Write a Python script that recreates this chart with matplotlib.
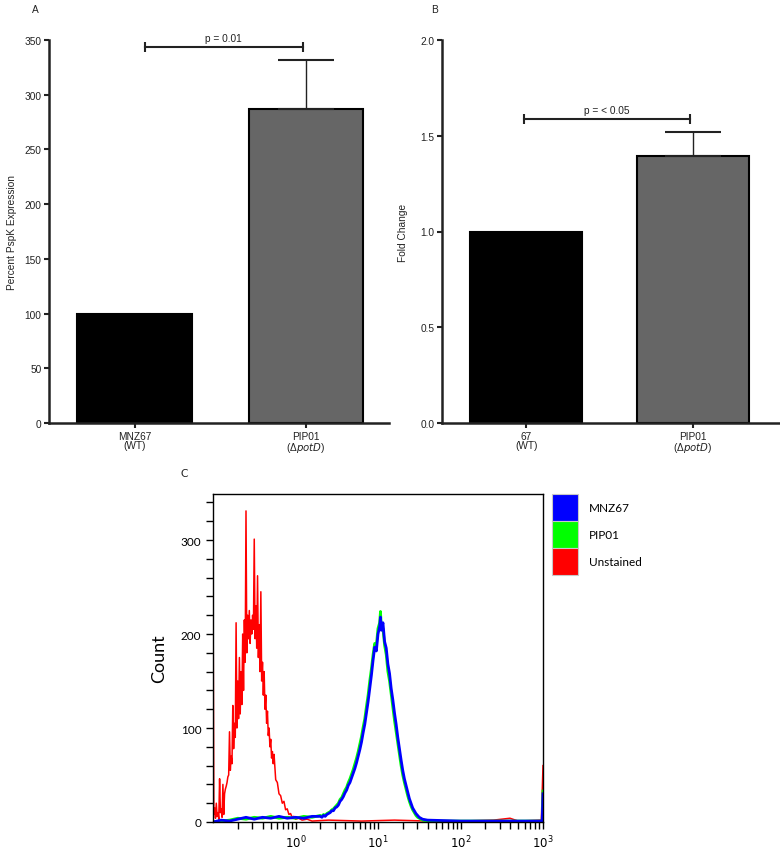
import numpy as np
import matplotlib
matplotlib.use("Agg")
from matplotlib import pyplot as plt
from matplotlib.patches import Patch

plt.rcParams['font.family'] = ['Liberation Sans', 'DejaVu Sans']

# panel A
a_labels = ["MNZ67\n(WT)", "PIP01\n(Δ$\\it{potD}$)"]
a_values = [100, 287]
a_errors = [0, 45]
# panel B
b_labels = ["67\n(WT)", "PIP01\n(Δ$\\it{potD}$)"]
b_values = [1.0, 1.394]
b_errors = [0, 0.126]

bar_colors = ["#000000", "#666666"]

# panel C - flow cytometry histograms (log10 of intensity, count)
red_logx = [-1.00, -0.99, -0.98, -0.97, -0.96, -0.95, -0.94, -0.93, -0.92, -0.91,
            -0.90, -0.89, -0.88, -0.87, -0.86, -0.85, -0.84, -0.83, -0.82, -0.81,
            -0.80, -0.79, -0.78, -0.77, -0.76, -0.75, -0.74, -0.73, -0.72, -0.71,
            -0.70, -0.69, -0.68, -0.67, -0.66, -0.65, -0.64, -0.63, -0.62, -0.61,
            -0.60, -0.59, -0.58, -0.57, -0.56, -0.55, -0.54, -0.53, -0.52, -0.51,
            -0.50, -0.49, -0.48, -0.47, -0.46, -0.45, -0.44, -0.43, -0.42, -0.41,
            -0.40, -0.39, -0.38, -0.37, -0.36, -0.35, -0.34, -0.33, -0.32, -0.31,
            -0.30, -0.29, -0.28, -0.27, -0.26, -0.24, -0.22, -0.20, -0.18, -0.16,
            -0.14, -0.12, -0.10, -0.08, -0.06, -0.04, -0.02, 0.00, 0.04, 0.08,
            0.14, 0.20, 0.40, 0.80, 1.20, 1.60, 2.00, 2.40, 2.60, 2.70,
            2.98, 3.00]
red_count = [262, 8, 15, 4, 20, 6, 10, 3, 46, 10,
             14, 5, 40, 8, 30, 35, 38, 42, 48, 50,
             96, 55, 70, 62, 124, 78, 105, 90, 212, 100,
             150, 110, 175, 115, 160, 125, 200, 140, 215, 170,
             331, 180, 220, 195, 225, 190, 215, 200, 220, 205,
             301, 195, 230, 185, 262, 175, 210, 160, 245, 150,
             170, 135, 160, 120, 135, 105, 118, 92, 100, 80,
             88, 68, 75, 62, 72, 45, 42, 30, 28, 20,
             22, 13, 14, 8, 9, 5, 6, 3, 4, 2,
             3, 1, 2, 1, 2, 1, 1, 2, 4, 1,
             2, 60]

blue_logx = [-1.00, -0.90, -0.80, -0.70, -0.60, -0.50, -0.40, -0.30, -0.20, -0.10,
             0.00, 0.10, 0.20, 0.30, 0.32, 0.34, 0.36, 0.38, 0.40, 0.42,
             0.44, 0.46, 0.48, 0.50, 0.52, 0.54, 0.56, 0.58, 0.60, 0.62,
             0.64, 0.66, 0.68, 0.70, 0.72, 0.74, 0.76, 0.78, 0.80, 0.82,
             0.84, 0.86, 0.88, 0.90, 0.92, 0.94, 0.96, 0.98, 1.00, 1.02,
             1.03, 1.04, 1.06, 1.08, 1.10, 1.12, 1.14, 1.16, 1.18, 1.20,
             1.22, 1.24, 1.26, 1.28, 1.30, 1.32, 1.34, 1.36, 1.38, 1.40,
             1.42, 1.44, 1.46, 1.48, 1.50, 1.54, 1.60, 2.00, 2.50, 2.99,
             3.00]
blue_count = [0, 2, 1, 3, 5, 3, 5, 4, 6, 4,
              5, 4, 6, 6, 5, 7, 6, 8, 9, 10,
              12, 12, 15, 16, 18, 22, 24, 27, 31, 34,
              39, 42, 47, 52, 57, 63, 70, 77, 85, 95,
              104, 116, 128, 142, 156, 172, 186, 182, 200, 208,
              218, 204, 212, 192, 185, 168, 158, 142, 130, 116,
              104, 90, 78, 66, 55, 46, 39, 32, 25, 20,
              15, 12, 9, 7, 5, 3, 2, 1, 1, 1,
              30]
green_count = [0, 1, 2, 4, 3, 5, 4, 6, 4, 5,
               4, 6, 5, 7, 6, 8, 7, 9, 10, 11,
               13, 14, 16, 18, 20, 24, 26, 30, 34, 37,
               42, 46, 51, 56, 62, 68, 75, 83, 91, 101,
               110, 123, 135, 150, 163, 178, 190, 188, 206, 212,
               224, 208, 206, 188, 178, 160, 150, 136, 122, 108,
               96, 84, 72, 60, 50, 42, 35, 28, 22, 17,
               13, 10, 7, 5, 4, 2, 1, 1, 1, 1,
               33]
legend_names = ["MNZ67", "PIP01", "Unstained"]
hist_colors = ["#0000ff", "#00ff00", "#ff0000"]

fig = plt.figure(figsize=(7.8, 8.53), dpi=100)
fs = 7.3


def bar_panel(rect, labels, values, errors, ylim, yticks, ylabel, xlim, labx):
    ax = fig.add_axes(rect)
    ax.bar(range(len(values)), values, width=0.67, color=bar_colors,
           edgecolor="black", linewidth=1.5)
    ax.errorbar([1], [values[1]], yerr=[[0], [errors[1]]], fmt="none",
                ecolor="#222222", elinewidth=1.0, capsize=20.5, capthick=1.5)
    ax.set_xlim(*xlim)
    ax.set_ylim(*ylim)
    ax.set_yticks(yticks)
    ax.set_xticks(range(len(labels)))
    ax.set_xticklabels(labels, fontsize=fs, color="#222222", linespacing=0.9)
    ax.tick_params(axis="y", labelsize=fs, labelcolor="#222222")
    ax.tick_params(direction="out", length=3.5, width=1.5, color="#222222", pad=2)
    for s in ["top", "right"]:
        ax.spines[s].set_visible(False)
    for s in ["left", "bottom"]:
        ax.spines[s].set_linewidth(1.8)
        ax.spines[s].set_color("#222222")
    ax.set_ylabel(ylabel, fontsize=fs, color="#222222")
    ax.yaxis.set_label_coords(labx, 0.5)
    return ax


axA = bar_panel([49/780, 1-424/853, 340/780, 383/853], a_labels, a_values, a_errors,
                (0, 350), [0, 50, 100, 150, 200, 250, 300, 350],
                "Percent PspK Expression", (-0.5, 1.485), -0.095)
axA.plot([0.06, 0.985], [343.5, 343.5], color="#222222", lw=1.5)
axA.plot([0.06, 0.985], [343.5, 343.5], ls="none", marker="|", ms=7,
         mew=1.5, color="#222222")
axA.text(0.52, 347, "p = 0.01", ha="center", va="bottom", fontsize=fs,
         color="#222222")

axB = bar_panel([442/780, 1-424/853, 337/780, 383/853], b_labels, b_values, b_errors,
                (0, 2.0), [0.0, 0.5, 1.0, 1.5, 2.0],
                "Fold Change", (-0.506, 1.518), -0.1)
axB.set_yticklabels(["0.0", "0.5", "1.0", "1.5", "2.0"])
axB.plot([-0.012, 0.982], [1.587, 1.587], color="#222222", lw=1.5)
axB.plot([-0.012, 0.982], [1.587, 1.587], ls="none", marker="|", ms=7,
         mew=1.5, color="#222222")
axB.text(0.485, 1.607, "p = < 0.05", ha="center", va="bottom", fontsize=fs,
         color="#222222")

fig.text(35/780, 1-10/853, "A", fontsize=fs, ha="center", va="center", color="#222222")
fig.text(435/780, 1-10/853, "B", fontsize=fs, ha="center", va="center", color="#222222")
fig.text(184/780, 1-474/853, "C", fontsize=8, ha="center", va="center",
         family="Lato", color="#222222")

# panel C
axC = fig.add_axes([213/780, 1-823/853, 330/780, 328/853])
axC.plot(10**np.array(red_logx), red_count, color=hist_colors[2], lw=1.1)
axC.plot(10**np.array(blue_logx), green_count, color=hist_colors[1], lw=2.0)
axC.plot(10**np.array(blue_logx), blue_count, color=hist_colors[0], lw=2.0)
axC.set_xscale("log")
axC.set_xlim(0.1, 1000)
axC.set_ylim(0, 349)
axC.set_yticks([0, 100, 200, 300])
axC.set_yticks(range(0, 349, 20), minor=True)
axC.set_xticks([1, 10, 100, 1000])
axC.set_xticklabels(["$10^0$", "$10^1$", "$10^2$", "$10^3$"])
axC.tick_params(which="both", direction="out", length=5, width=1.0, labelsize=8.5)
for lab in axC.get_xticklabels() + axC.get_yticklabels():
    lab.set_family("Lato")
for s in axC.spines.values():
    s.set_linewidth(1.0)
axC.set_ylabel("Count", fontsize=13, family="Lato")
axC.yaxis.set_label_coords(-0.14, 0.5)

handles = [Patch(facecolor=c, edgecolor="#c8c8c8", linewidth=0.8) for c in hist_colors]
fig.legend(handles, legend_names, loc="upper left",
           bbox_to_anchor=(552/780, 1-495/853), frameon=False,
           prop={"family": "Lato", "size": 8.5}, handlelength=2.2,
           handleheight=3.15, labelspacing=0.0, handletextpad=0.9,
           borderpad=0, borderaxespad=0)

fig.savefig("out.png", dpi=100)
